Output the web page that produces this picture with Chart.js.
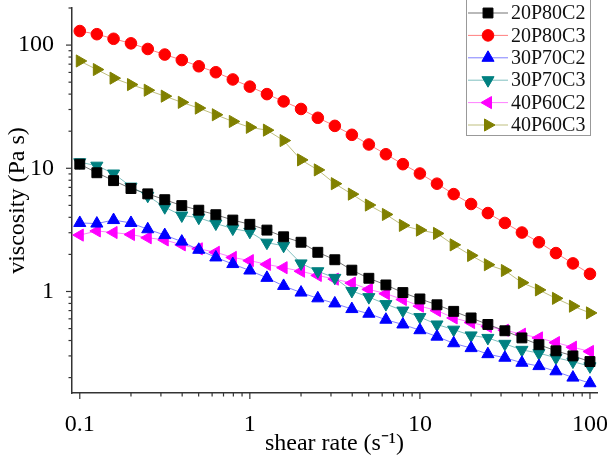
<!DOCTYPE html>
<html lang="en">
<head>
    <meta charset="UTF-8">
    <title>Viscosity vs shear rate</title>
    <script src="https://cdn.jsdelivr.net/npm/chart.js"></script>
    <style>
        body { margin: 0; background: #fff; }
    </style>
</head>
<body>
    <canvas id="chart" width="607" height="462"></canvas>
    <script>
        const shearRate = [0.1, 0.126, 0.158, 0.2, 0.251, 0.316, 0.398, 0.501, 0.631, 0.794,
                           1, 1.26, 1.58, 2, 2.51, 3.16, 3.98, 5.01, 6.31, 7.94,
                           10, 12.6, 15.8, 20, 25.1, 31.6, 39.8, 50.1, 63.1, 79.4, 100];

        const v20P80C2 = [10.8, 9.2, 7.94, 6.85, 6.2, 5.56, 4.98, 4.57, 4.2, 3.8,
                          3.51, 3.15, 2.78, 2.51, 2.08, 1.81, 1.49, 1.28, 1.13, 0.98,
                          0.87, 0.78, 0.69, 0.61, 0.54, 0.48, 0.42, 0.37, 0.33, 0.30, 0.27];
        const v20P80C3 = [130, 122.6, 112.5, 103.3, 93, 83.8, 75.6, 67.3, 60.2, 52.6,
                          46.0, 40, 34.9, 30.3, 25.7, 22.1, 18.7, 15.6, 13.0, 10.8,
                          9.07, 7.5, 6.17, 5.13, 4.33, 3.60, 3.01, 2.51, 2.05, 1.69, 1.39];
        const v30P70C2 = [3.6, 3.56, 3.8, 3.6, 3.2, 2.87, 2.54, 2.18, 1.89, 1.67,
                          1.48, 1.29, 1.11, 0.98, 0.88, 0.80, 0.72, 0.66, 0.59, 0.54,
                          0.485, 0.43, 0.38, 0.347, 0.31, 0.29, 0.264, 0.248, 0.225, 0.20, 0.18];
        const v30P70C3 = [11.2, 10.5, 9.07, 7.1, 5.98, 4.83, 4.14, 3.97, 3.56, 3.24,
                          3.05, 2.49, 2.35, 1.69, 1.46, 1.29, 1.01, 0.90, 0.79, 0.70,
                          0.62, 0.54, 0.49, 0.44, 0.42, 0.376, 0.336, 0.316, 0.29, 0.27, 0.247];
        const v40P60C2 = [2.87, 3.1, 3.01, 2.9, 2.73, 2.62, 2.39, 2.22, 2.08, 1.89,
                          1.78, 1.66, 1.56, 1.46, 1.35, 1.26, 1.17, 1.04, 0.96, 0.86,
                          0.76, 0.70, 0.61, 0.56, 0.52, 0.485, 0.45, 0.42, 0.385, 0.353, 0.326];
        const v40P60C3 = [74.3, 63.3, 53.9, 47.8, 43.0, 38.5, 34.3, 30.8, 27.2, 24.0,
                          21.5, 20.4, 16.8, 11.7, 9.7, 7.5, 6.17, 5.03, 4.22, 3.44,
                          3.15, 2.96, 2.39, 1.96, 1.65, 1.48, 1.18, 1.03, 0.88, 0.76, 0.67];

        const seriesNames  = ['20P80C2', '20P80C3', '30P70C2', '30P70C3', '40P60C2', '40P60C3'];
        const seriesValues = [v20P80C2, v20P80C3, v30P70C2, v30P70C3, v40P60C2, v40P60C3];

        const xTickValues = [0.1, 0.2, 0.3, 0.4, 0.5, 0.6, 0.7, 0.8, 0.9,
                             1, 2, 3, 4, 5, 6, 7, 8, 9,
                             10, 20, 30, 40, 50, 60, 70, 80, 90, 100];
        const yTickValues = [0.2, 0.3, 0.4, 0.5, 0.6, 0.7, 0.8, 0.9,
                             1, 2, 3, 4, 5, 6, 7, 8, 9,
                             10, 20, 30, 40, 50, 60, 70, 80, 90, 100, 200];

        // marker look per series
        const colors   = ['#000000', '#ff0000', '#0000ff', '#008080', '#ff00ff', '#808000'];
        const lines    = ['rgba(0,0,0,0.55)', 'rgba(255,0,0,0.5)', 'rgba(0,0,255,0.5)',
                          'rgba(0,128,128,0.5)', 'rgba(255,0,255,0.5)', 'rgba(128,128,0,0.5)'];
        const styles   = ['rect', 'circle', 'triangle', 'triangle', 'triangle', 'triangle'];
        const rotations = [0, 0, 0, 180, -90, 90];
        const radii    = [7, 5.8, 7, 7, 7, 7];

        const isPow10 = v => Math.abs(Math.log10(v) - Math.round(Math.log10(v))) < 1e-9;

        const SERIF = "'Liberation Serif', 'Times New Roman', serif";
        Chart.defaults.font.family = SERIF;
        Chart.defaults.color = '#000';

        const datasets = seriesNames.map((name, i) => ({
            label            : name,
            data             : shearRate.map((x, k) => ({x: x, y: seriesValues[i][k]})),
            showLine         : true,
            borderColor      : lines[i],
            borderWidth      : 1,
            backgroundColor  : colors[i],
            pointBackgroundColor : colors[i],
            pointBorderColor : colors[i],
            pointBorderWidth : 1,
            pointStyle       : styles[i],
            pointRotation    : rotations[i],
            pointRadius      : radii[i],
            pointHoverRadius : radii[i],
            tension          : 0
        }));

        // short minor / long major tick marks, outside the axes
        const tickMarks = {
            id: 'tickMarks',
            afterDraw(chart) {
                const ctx = chart.ctx;
                ctx.save();
                ctx.strokeStyle = '#333';
                ctx.lineWidth = 1.2;
                const xs = chart.scales.x, ys = chart.scales.y;
                xs.ticks.forEach(t => {
                    const p = xs.getPixelForValue(t.value);
                    const len = isPow10(t.value) ? 6 : 3.5;
                    ctx.beginPath();
                    ctx.moveTo(p, xs.top);
                    ctx.lineTo(p, xs.top + len);
                    ctx.stroke();
                });
                ys.ticks.forEach(t => {
                    const p = ys.getPixelForValue(t.value);
                    const len = isPow10(t.value) ? 6 : 3.5;
                    ctx.beginPath();
                    ctx.moveTo(ys.right, p);
                    ctx.lineTo(ys.right - len, p);
                    ctx.stroke();
                });
                ctx.restore();
            }
        };

        // legend box with line + marker, like the original
        const boxLegend = {
            id: 'boxLegend',
            afterDraw(chart) {
                const ctx = chart.ctx;
                ctx.save();
                ctx.strokeStyle = '#999';
                ctx.lineWidth = 1;
                ctx.strokeRect(466.5, -2, 124, 137.5);
                ctx.font = "20px " + SERIF;
                ctx.textBaseline = 'middle';
                chart.data.datasets.forEach((ds, i) => {
                    const y = 13 + i * 22.4;
                    ctx.strokeStyle = ds.borderColor;
                    ctx.lineWidth = 1;
                    ctx.beginPath();
                    ctx.moveTo(468, y);
                    ctx.lineTo(508, y);
                    ctx.stroke();
                    ctx.fillStyle = ds.pointBackgroundColor;
                    ctx.strokeStyle = ds.pointBorderColor;
                    Chart.helpers.drawPoint(ctx, {pointStyle: ds.pointStyle, rotation: ds.pointRotation,
                                                  radius: ds.pointRadius, borderWidth: 1}, 488, y);
                    ctx.fillStyle = '#111';
                    ctx.fillText(ds.label, 511, y + 1);
                });
                ctx.restore();
            }
        };

        const ctx = document.getElementById('chart').getContext('2d');

        new Chart(ctx, {
            type: 'scatter',
            data: {datasets: datasets},
            plugins: [tickMarks, boxLegend],
            options: {
                responsive: false,
                animation: false,
                layout: {padding: {left: 0, top: 3, right: 10, bottom: 0}},
                plugins: {legend: {display: false}, tooltip: {enabled: false}},
                scales: {
                    x: {type: 'logarithmic', position: 'bottom', min: 0.09, max: 110, bounds: 'data',
                        afterBuildTicks: s => { s.ticks = xTickValues.map(v => ({value: v, major: isPow10(v)})); },
                        afterFit: s => { s.height = 69; s.paddingLeft = 0; s.paddingRight = 0; },
                        grid: {display: false},
                        border: {display: true, color: '#333', width: 1.5},
                        ticks: {autoSkip: false, maxRotation: 0, padding: 9,
                                font: {family: SERIF, size: 24}, color: '#000',
                                callback: v => isPow10(v) ? String(v) : ''},
                        title: {display: true, text: 'shear rate (s\u207B\u00B9)',
                                font: {family: SERIF, size: 24}, color: '#000',
                                padding: {top: 0, bottom: 4}}},
                    y: {type: 'logarithmic', position: 'left', min: 0.15, max: 200, bounds: 'data',
                        afterBuildTicks: s => { s.ticks = yTickValues.map(v => ({value: v, major: isPow10(v)})); },
                        afterFit: s => { s.width = 72; s.paddingTop = 0; s.paddingBottom = 0; },
                        grid: {display: false},
                        border: {display: true, color: '#333', width: 1.5},
                        ticks: {autoSkip: false, padding: 10,
                                font: {family: SERIF, size: 24}, color: '#000',
                                callback: v => isPow10(v) ? String(v) : ''},
                        title: {display: true, text: 'viscosity (Pa s)',
                                font: {family: SERIF, size: 24}, color: '#000',
                                padding: {top: 3, bottom: 0}}}
                }
            }
        });
    </script>
</body>
</html>
